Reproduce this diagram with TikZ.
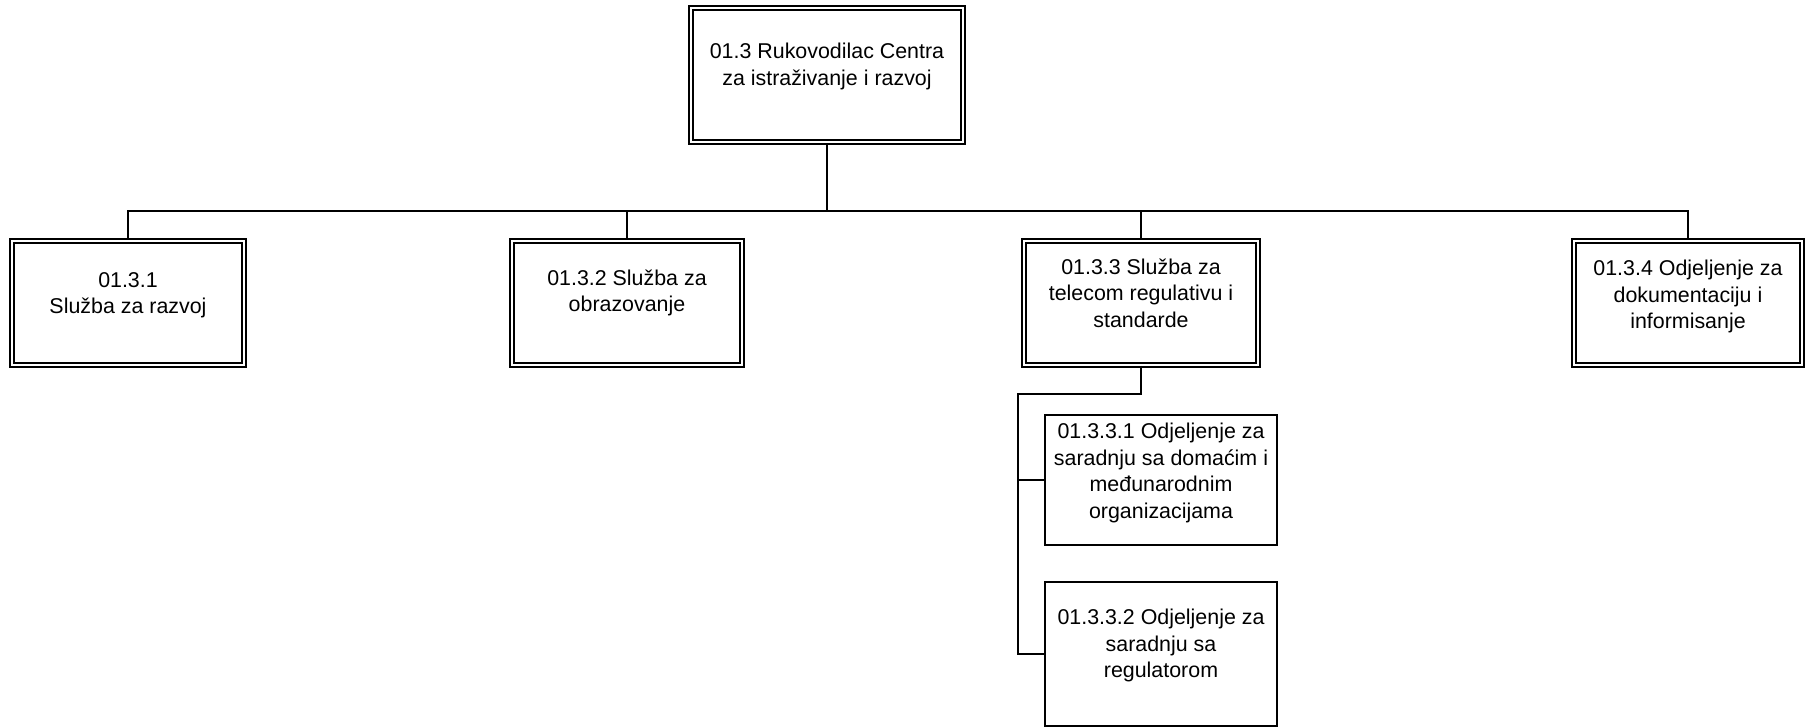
\documentclass[tikz,border=0pt]{standalone}
\usepackage{fontspec}
\setmainfont{Liberation Sans}
\begin{document}
\begin{tikzpicture}[x=1pt,y=-1pt,
  dbox/.style={draw,double,line width=1.5pt,double distance=2.5pt,rectangle,inner sep=0pt},
  sbox/.style={draw,line width=1.6pt,rectangle,inner sep=0pt},
  lbl/.style={anchor=north,align=center,inner sep=0pt,font=\fontsize{21.4}{26.5}\selectfont},
  conn/.style={line width=1.6pt}]
\useasboundingbox (0,0) rectangle (1805,728);
% boxes
\node[dbox,minimum width=272pt,minimum height=134pt] (top) at (827,75) {};
\node[dbox,minimum width=232pt,minimum height=124pt] (b1) at (128,303) {};
\node[dbox,minimum width=230pt,minimum height=124pt] (b2) at (627,303) {};
\node[dbox,minimum width=234pt,minimum height=124pt] (b3) at (1141,303) {};
\node[dbox,minimum width=228pt,minimum height=124pt] (b4) at (1688,303) {};
\node[sbox,minimum width=232pt,minimum height=130pt] (c1) at (1161,480) {};
\node[sbox,minimum width=232pt,minimum height=144pt] (c2) at (1161,654) {};
% labels
\node[lbl] (ttop) at ([yshift=-36pt]top.north) {01.3 Rukovodilac Centra\\za istraživanje i razvoj};
\node[lbl] (tb1) at ([yshift=-32pt]b1.north) {01.3.1\\Služba za razvoj};
\node[lbl] (tb2) at ([yshift=-29pt]b2.north) {01.3.2 Služba za\\obrazovanje};
\node[lbl] (tb3) at ([yshift=-18pt]b3.north) {01.3.3 Služba za\\telecom regulativu i\\standarde};
\node[lbl] (tb4) at ([yshift=-20pt]b4.north) {01.3.4 Odjeljenje za\\dokumentaciju i\\informisanje};
\node[lbl] (tc1) at ([yshift=-9pt]c1.north) {01.3.3.1 Odjeljenje za\\saradnju sa domaćim i\\međunarodnim\\organizacijama};
\node[lbl] (tc2) at ([yshift=-28pt]c2.north) {01.3.3.2 Odjeljenje za\\saradnju sa\\regulatorom};
% connectors
\coordinate (bus) at (827,211);
\coordinate (sp) at (1018,394);
\draw[conn] (top.south) -- (bus);
\draw[conn] (bus) -| (b1.north);
\draw[conn] (bus) -| (b2.north);
\draw[conn] (bus) -| (b3.north);
\draw[conn] (bus) -| (b4.north);
\draw[conn] (b3.south) |- (sp) |- (c1.west);
\draw[conn] (sp) |- (c2.west);
\end{tikzpicture}
\end{document}
